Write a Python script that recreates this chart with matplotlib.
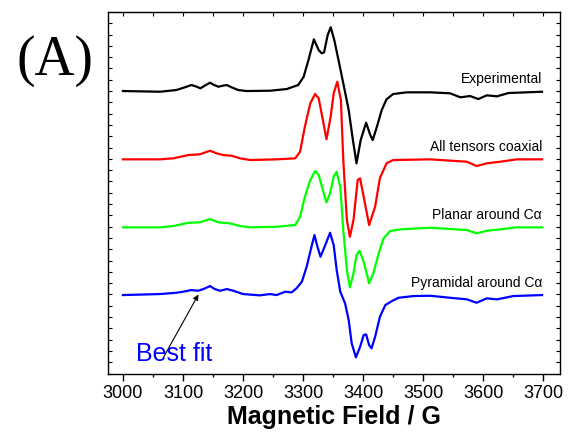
import matplotlib
matplotlib.use("Agg")
import matplotlib.pyplot as plt
from matplotlib.ticker import MultipleLocator, NullFormatter

plt.rcParams['font.family'] = ['Liberation Sans', 'DejaVu Sans']

# spectra: field (G) and signal above each baseline (a.u.)
exp_field = [3000, 3062, 3089, 3103, 3114, 3123, 3129, 3138, 3145, 3152, 3159, 3166,
             3173, 3181, 3192, 3206, 3245, 3273, 3287, 3292, 3301, 3309, 3318, 3326,
             3331, 3335, 3341, 3346, 3352, 3359, 3367, 3376, 3383, 3389, 3396, 3405,
             3412, 3416, 3423, 3431, 3439, 3450, 3473, 3512, 3545, 3562, 3578, 3592,
             3606, 3623, 3642, 3698]
exp_signal = [0, -0.7, 1, 3.7, 6, 4.3, 2.7, 6, 8.3, 6, 4.3, 5.3,
              6, 3.7, 1, 0, 0.3, 2, 5, 6, 14.3, 31, 51.7, 41,
              37.7, 38.7, 56, 63.7, 51, 31, 7.7, -19, -49, -72.3, -49, -31.7,
              -44, -49, -35.7, -19, -8.3, -3, -1.3, -1.3, -2.3, -6.3, -5, -8,
              -4.3, -5.3, -2, -0.7]

coax_field = [3000, 3062, 3084, 3109, 3128, 3145, 3156, 3167, 3181, 3195, 3212, 3256,
              3287, 3295, 3303, 3312, 3320, 3326, 3333, 3339, 3346, 3351, 3357, 3363,
              3367, 3373, 3378, 3384, 3391, 3395, 3402, 3410, 3420, 3428, 3439, 3450,
              3512, 3573, 3589, 3606, 3628, 3656, 3698]
coax_signal = [0, 0, 1, 4.3, 5, 8.6, 6, 4.3, 3.6, 1, -0.7, 0,
               1, 7.6, 32.6, 56, 65.3, 61, 39.3, 20, 42.6, 66, 77.6, 59.3,
               -0.7, -60.7, -77.4, -60.7, -20.7, -19, -40.7, -65.7, -47.4, -18.7, -4, -0.7,
               0, -2.4, -6.7, -4, -2.4, 0, 0]

planar_field = [3000, 3062, 3084, 3109, 3128, 3145, 3159, 3178, 3195, 3212, 3256, 3287,
                3295, 3303, 3312, 3320, 3326, 3333, 3339, 3345, 3351, 3356, 3362, 3367,
                3373, 3378, 3384, 3389, 3394, 3401, 3410, 3417, 3426, 3434, 3445, 3462,
                3512, 3573, 3589, 3606, 3628, 3656, 3698]
planar_signal = [0, 0, 1.3, 4.6, 5, 8.3, 5, 4, 1.3, 0, 0.6, 2.3,
                 10.6, 30.6, 47.3, 56.3, 52.3, 37.3, 25, 34, 50.6, 55.6, 40.6, -2.7,
                 -42.7, -60, -46, -27.7, -23.4, -34.4, -56, -46, -26, -11, -3.7, -2,
                 -0.4, -2.7, -6, -3.4, -2, 0, 0]

pyr_field = [3000, 3062, 3089, 3100, 3114, 3125, 3134, 3145, 3153, 3162, 3173, 3184,
             3200, 3228, 3245, 3256, 3270, 3281, 3289, 3298, 3306, 3314, 3319, 3324,
             3329, 3337, 3345, 3351, 3356, 3362, 3370, 3376, 3381, 3388, 3395, 3401,
             3405, 3410, 3414, 3420, 3428, 3437, 3448, 3459, 3484, 3512, 3545, 3573,
             3589, 3606, 3623, 3650, 3698]
pyr_signal = [0, 1, 2.3, 3.3, 5, 4.3, 6, 9, 6, 4.3, 6, 4.3,
              1, -0.3, 1, 0, 3.3, 2.7, 6.7, 13.3, 28.3, 48.3, 60, 48.3,
              38.3, 50, 62.3, 50, 25, 3.3, -8.3, -25, -48.3, -62.3, -51.7, -40,
              -39.3, -50, -53.3, -41.7, -21.7, -10, -6, -2.7, -1, -0.7, -2.7, -4.3,
              -7.7, -3.3, -4.3, -1, 0]

labels = ['Experimental', 'All tensors coaxial', 'Planar around C\u03b1', 'Pyramidal around C\u03b1']
colors = ['black', '#ff0000', '#00ff00', '#0000ff']
offsets = [0, -68.3, -136.3, -204]

fig = plt.figure(figsize=(5.68, 4.37), dpi=100)
ax = fig.add_axes([0.190, 0.144, 0.796, 0.8285])

series = [(exp_field, exp_signal), (coax_field, coax_signal),
          (planar_field, planar_signal), (pyr_field, pyr_signal)]
for (f, s), lab, c, off in zip(series, labels, colors, offsets):
    ax.plot(f, [v + off for v in s], color=c, lw=1.6, solid_joinstyle='round')
    ax.text(3698, off + 12, lab, ha='right', va='center', fontsize=10)

ax.set_xlim(2975, 3728)
ax.set_ylim(-283, 79)
ax.xaxis.set_major_locator(MultipleLocator(100))
ax.xaxis.set_minor_locator(MultipleLocator(50))
ax.yaxis.set_major_locator(MultipleLocator(11.3))
ax.yaxis.set_major_formatter(NullFormatter())
ax.tick_params(axis='x', which='major', direction='out', length=5, width=1, labelsize=13, pad=3)
ax.tick_params(axis='x', which='minor', direction='out', length=2.5, width=1)
ax.tick_params(axis='y', which='both', direction='in', length=3, width=0.8, left=True, right=True)
top = ax.secondary_xaxis('top')
top.xaxis.set_major_locator(MultipleLocator(50))
top.xaxis.set_major_formatter(NullFormatter())
top.tick_params(direction='in', length=3, width=0.8)
for sp in ax.spines.values():
    sp.set_linewidth(1.0)
ax.set_xlabel('Magnetic Field / G', fontsize=18, fontweight='bold', labelpad=2)

ax.annotate('', xy=(3128, -201), xytext=(3065, -269),
            arrowprops=dict(arrowstyle='-|>', color='black', lw=0.8, mutation_scale=8))
ax.text(3022, -263, 'Best fit', color='#0000ff', fontsize=18, ha='left', va='center')

fig.text(0.096, 0.86, '(A)', fontsize=40, family='Liberation Serif', ha='center', va='center')

fig.savefig('out.png', dpi=100)
